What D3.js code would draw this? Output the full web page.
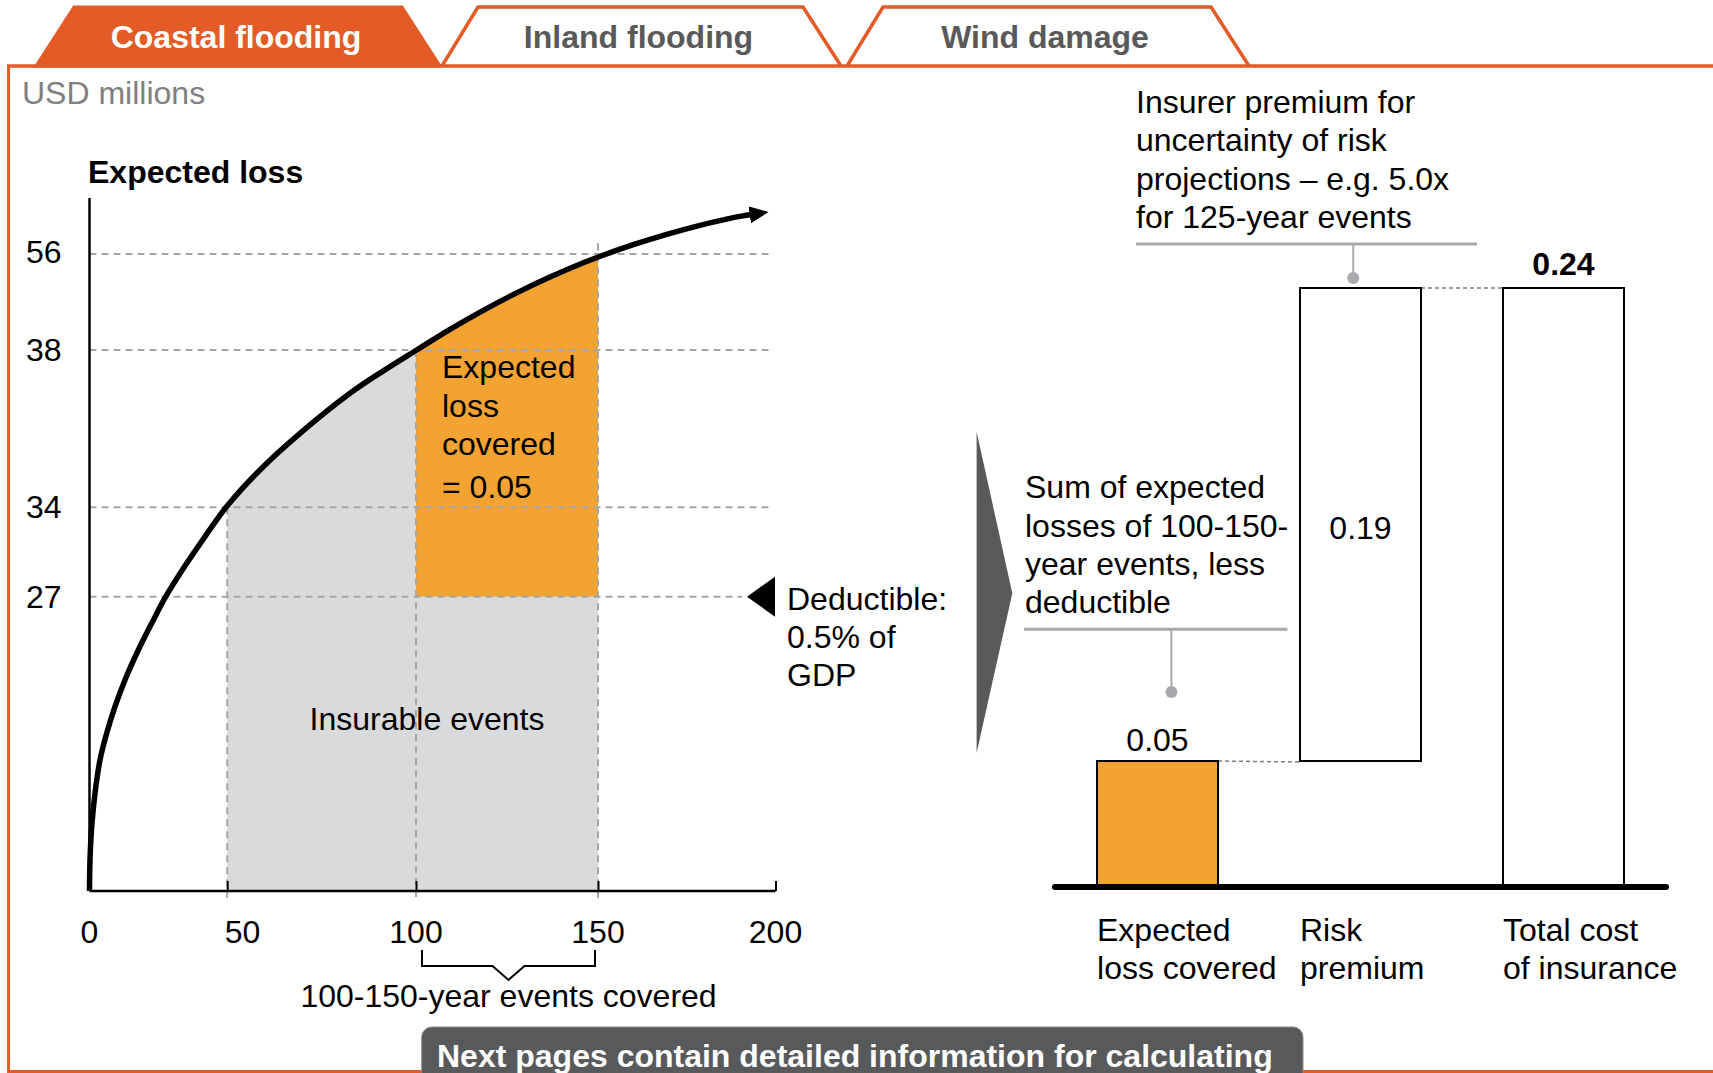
<!DOCTYPE html>
<html><head><meta charset="utf-8">
<script src="https://cdn.jsdelivr.net/npm/d3@7"></script>
<style>
html,body{margin:0;padding:0;background:#fff;}
svg{display:block;font-family:"Liberation Sans", Arial, sans-serif;}
</style></head><body>
<svg id="chart" width="1713" height="1073"></svg>
<script>
// ---------------- data ----------------
const tabs = ["Coastal flooding", "Inland flooding", "Wind damage"];
const unitLabel = "USD millions";
const yTitle = "Expected loss";
const yTicks = [27, 34, 38, 56];
const xTicks = [0, 50, 100, 150, 200];
const xBoundaryTicks = [45, 100, 150, 200];
// curve: return period (years) vs expected loss (USD millions)
const returnPeriod = [0, 0.16, 0.72, 1.80, 3.43, 5.62, 8.33, 11.60, 15.95, 20.33, 24.90, 30.65, 37.75, 44.84, 55.04, 66.57, 80.98, 90.58, 100.19, 109.34, 118.49, 127.66, 136.81, 145.96, 150.28, 159.94, 169.35, 178.73, 188.11, 193.30];
const expectedLoss = [0, 2.84, 5.90, 8.96, 12.02, 14.47, 16.91, 19.36, 22.11, 24.56, 27, 29.21, 31.71, 34.02, 34.95, 35.88, 36.90, 37.47, 38, 41.86, 45.43, 48.71, 51.67, 54.35, 55.49, 57.74, 59.69, 61.38, 62.83, 63.41];
const insurableRange = [45, 150];
const coveredRange = [100, 150];
const boundaryTops = [34, 38, 58];
const deductible = 27;
const coveredText = ["Expected", "loss", "covered", "= 0.05"];
const deductibleText = ["Deductible:", "0.5% of", "GDP"];
const insurableText = "Insurable events";
const bracketText = "100-150-year events covered";

const barCategories = [["Expected", "loss covered"], ["Risk", "premium"], ["Total cost", "of insurance"]];
const barStart = [0, 0.05, 0];
const barEnd = [0.05, 0.24, 0.24];
const barLabels = ["0.05", "0.19", "0.24"];
const topNote = ["Insurer premium for", "uncertainty of risk", "projections \u2013 e.g. 5.0x", "for 125-year events"];
const sideNote = ["Sum of expected", "losses of 100-150-", "year events, less", "deductible"];
const footerText = "Next pages contain detailed information for calculating";

// ---------------- styles ----------------
const ORANGE_TAB = "#E35B26";
const ORANGE_FILL = "#F2A331";
const GRAY_FILL = "#D9DADC";
const DARK = "#58595B";
const LINE_GRAY = "#A7A9AC";
const FS = 32;

const svg = d3.select("#chart");

function addText(g, x, y, s, o = {}) {
  return g.append("text").attr("x", x).attr("y", y)
    .attr("font-size", o.size || FS)
    .attr("font-weight", o.bold ? "bold" : "normal")
    .attr("fill", o.fill || "#000")
    .attr("text-anchor", o.anchor || "start")
    .text(s);
}
function addLines(g, x, y, lines, lh, o = {}) {
  lines.forEach((s, i) => addText(g, x, y + i * lh, s, o));
}

// ---------------- frame & tabs ----------------
const frame = svg.append("g");
const tabGeom = [
  {bl: 36, tl: 74, tr: 402, br: 440},
  {bl: 442, tl: 478, tr: 803, br: 841},
  {bl: 847, tl: 883, tr: 1211, br: 1249}
];
const tabTop = 7, tabBottom = 66;
tabs.forEach((t, i) => {
  const gm = tabGeom[i];
  if (i === 0) {
    frame.append("path")
      .attr("d", `M${gm.bl},${tabBottom}L${gm.tl},${tabTop}L${gm.tr},${tabTop}L${gm.br},${tabBottom}Z`)
      .attr("fill", ORANGE_TAB).attr("stroke", ORANGE_TAB).attr("stroke-width", 3);
  } else {
    frame.append("path")
      .attr("d", `M${gm.bl},${tabBottom}L${gm.tl},${tabTop}L${gm.tr},${tabTop}L${gm.br},${tabBottom}`)
      .attr("fill", "#fff").attr("stroke", ORANGE_TAB).attr("stroke-width", 3.5);
  }
  addText(frame, (gm.tl + gm.tr) / 2 - 2, 48, t, {bold: true, anchor: "middle", fill: i === 0 ? "#fff" : "#595959"});
});
frame.append("line").attr("x1", 7).attr("x2", 1713).attr("y1", tabBottom).attr("y2", tabBottom)
  .attr("stroke", ORANGE_TAB).attr("stroke-width", 3.5);
frame.append("line").attr("x1", 8.5).attr("x2", 8.5).attr("y1", tabBottom).attr("y2", 1073)
  .attr("stroke", ORANGE_TAB).attr("stroke-width", 3);
frame.append("line").attr("x1", 8.5).attr("x2", 1713).attr("y1", 1071.5).attr("y2", 1071.5)
  .attr("stroke", ORANGE_TAB).attr("stroke-width", 3);

addText(svg, 22, 104, unitLabel, {fill: "#808080"});

// ---------------- left chart ----------------
const L = svg.append("g");
const x = d3.scaleLinear().domain(xTicks).range([89.5, 242.5, 416, 598, 775.5]);
const y = d3.scaleLinear().domain([0, 27, 34, 38, 56]).range([891, 596.7, 507.3, 350, 254]);
const pts = returnPeriod.map((r, i) => [r, expectedLoss[i]]);

const defs = svg.append("defs");
defs.append("clipPath").attr("id", "clipIns").append("rect")
  .attr("x", x(insurableRange[0])).attr("y", 0)
  .attr("width", x(insurableRange[1]) - x(insurableRange[0])).attr("height", y(0));
defs.append("clipPath").attr("id", "clipCov").append("rect")
  .attr("x", x(coveredRange[0])).attr("y", 0)
  .attr("width", x(coveredRange[1]) - x(coveredRange[0])).attr("height", y(deductible));
defs.append("marker").attr("id", "arrow")
  .attr("markerUnits", "userSpaceOnUse").attr("markerWidth", 24).attr("markerHeight", 20)
  .attr("refX", 2).attr("refY", 8.5).attr("orient", "auto")
  .append("path").attr("d", "M0,0L19,8.5L0,17Z").attr("fill", "#000");

const curve = d3.curveCatmullRom.alpha(0.5);
L.append("path").datum(pts)
  .attr("d", d3.area().x(d => x(d[0])).y0(y(0)).y1(d => y(d[1])).curve(curve))
  .attr("fill", GRAY_FILL).attr("clip-path", "url(#clipIns)");
L.append("path").datum(pts)
  .attr("d", d3.area().x(d => x(d[0])).y0(y(deductible)).y1(d => y(d[1])).curve(curve))
  .attr("fill", ORANGE_FILL).attr("clip-path", "url(#clipCov)");

// gridlines
yTicks.forEach(v => {
  L.append("line").attr("x1", x(0)).attr("x2", v === deductible ? 742 : 772)
    .attr("y1", y(v)).attr("y2", y(v))
    .attr("stroke", "#A6A6A6").attr("stroke-width", 2).attr("stroke-dasharray", "7,5");
});
// vertical boundaries
[insurableRange[0], coveredRange[0], coveredRange[1]].forEach((v, i) => {
  L.append("line").attr("x1", x(v)).attr("x2", x(v))
    .attr("y1", y(boundaryTops[i])).attr("y2", y(0) + 7)
    .attr("stroke", "#A6A6A6").attr("stroke-width", 2).attr("stroke-dasharray", "7,5");
});

// axes
L.append("line").attr("x1", x(0)).attr("x2", x(0)).attr("y1", 198).attr("y2", y(0))
  .attr("stroke", "#000").attr("stroke-width", 2.5);
const xAxis = d3.axisBottom(x).tickValues(xBoundaryTicks).tickSize(-10).tickFormat("");
const xa = L.append("g").attr("transform", `translate(0,${y(0)})`).call(xAxis);
xa.select(".domain").attr("d", `M${x(0)},0H${x(200)}`).attr("stroke", "#000").attr("stroke-width", 2.5);
xa.selectAll(".tick line").attr("stroke", "#000").attr("stroke-width", 2);

yTicks.forEach(v => addText(L, 26, y(v) + (v === 56 ? 8.5 : 11), String(v)));
xTicks.forEach(v => addText(L, x(v), 943, String(v), {anchor: "middle"}));
addText(L, 88, 183, yTitle, {bold: true});

// curve
L.append("path").datum(pts)
  .attr("d", d3.line().x(d => x(d[0])).y(d => y(d[1])).curve(curve))
  .attr("fill", "none").attr("stroke", "#000").attr("stroke-width", 5.5)
  .attr("marker-end", "url(#arrow)");

// texts in plot
const cx0 = x(coveredRange[0]) + 26;
addText(L, cx0, 378, coveredText[0]);
addText(L, cx0, 416.5, coveredText[1]);
addText(L, cx0, 455, coveredText[2]);
addText(L, cx0, 498, coveredText[3]);
addText(L, x(coveredRange[0]) + 11, 730, insurableText, {anchor: "middle"});

// deductible marker
const dy0 = y(deductible);
L.append("path").attr("d", `M747,${dy0}L775,${dy0 - 20}L775,${dy0 + 20}Z`).attr("fill", "#000");
addLines(L, 787, dy0 + 13, deductibleText, 38.3);

// bracket
const bx0 = x(coveredRange[0]) + 6, bx1 = x(coveredRange[1]) - 3, bm = (bx0 + bx1) / 2;
L.append("path")
  .attr("d", `M${bx0},950V966H${bm - 16}L${bm},980L${bm + 16},966H${bx1}V950`)
  .attr("fill", "none").attr("stroke", "#000").attr("stroke-width", 2);
addText(L, bm, 1007, bracketText, {anchor: "middle"});

// chevron
svg.append("path").attr("d", "M976.6,431.7L1012.3,593.3L976.6,753Z").attr("fill", DARK);

// ---------------- right chart (waterfall) ----------------
const R = svg.append("g");
const xb = d3.scaleBand().domain(d3.range(barCategories.length)).range([1055, 1666])
  .paddingInner(0.404).paddingOuter(0.207);
const yb = d3.scaleLinear().domain([0, 0.24]).range([885.5, 288]);
const bw = xb.bandwidth();

// connectors
R.append("line").attr("x1", xb(0) + bw).attr("x2", xb(1)).attr("y1", yb(barEnd[0])).attr("y2", yb(barStart[1]) + 1)
  .attr("stroke", "#808080").attr("stroke-width", 1.5).attr("stroke-dasharray", "4,3");
R.append("line").attr("x1", xb(1) + bw).attr("x2", xb(2)).attr("y1", yb(barEnd[1])).attr("y2", yb(barEnd[2]))
  .attr("stroke", "#808080").attr("stroke-width", 1.5).attr("stroke-dasharray", "4,3");

R.selectAll("rect.bar").data(barCategories).enter().append("rect").attr("class", "bar")
  .attr("x", (d, i) => xb(i)).attr("width", bw)
  .attr("y", (d, i) => yb(barEnd[i])).attr("height", (d, i) => yb(barStart[i]) - yb(barEnd[i]))
  .attr("fill", (d, i) => i === 0 ? ORANGE_FILL : "#fff")
  .attr("stroke", "#000").attr("stroke-width", 2);

R.append("line").attr("x1", 1055).attr("x2", 1666).attr("y1", 887).attr("y2", 887)
  .attr("stroke", "#000").attr("stroke-width", 6).attr("stroke-linecap", "round");

addText(R, xb(0) + bw / 2, yb(barEnd[0]) - 10, barLabels[0], {anchor: "middle"});
addText(R, xb(1) + bw / 2, (yb(barStart[1]) + yb(barEnd[1])) / 2 + 14, barLabels[1], {anchor: "middle"});
addText(R, xb(2) + bw / 2, yb(barEnd[2]) - 13, barLabels[2], {anchor: "middle", bold: true});

barCategories.forEach((c, i) => addLines(R, xb(i), 941, c, 38.3));

// annotations
addLines(R, 1136, 113, topNote, 38.3);
R.append("line").attr("x1", 1136).attr("x2", 1477).attr("y1", 244).attr("y2", 244)
  .attr("stroke", LINE_GRAY).attr("stroke-width", 3);
const s1 = xb(1) + bw * 0.44;
R.append("line").attr("x1", s1).attr("x2", s1).attr("y1", 244).attr("y2", yb(barEnd[1]) - 10)
  .attr("stroke", LINE_GRAY).attr("stroke-width", 2);
R.append("circle").attr("cx", s1).attr("cy", yb(barEnd[1]) - 10).attr("r", 6).attr("fill", LINE_GRAY);

addLines(R, 1025, 498.3, sideNote, 38.3);
R.append("line").attr("x1", 1024).attr("x2", 1287.5).attr("y1", 629.3).attr("y2", 629.3)
  .attr("stroke", LINE_GRAY).attr("stroke-width", 3);
const s2 = xb(0) + bw * 0.615;
R.append("line").attr("x1", s2).attr("x2", s2).attr("y1", 629.3).attr("y2", 692)
  .attr("stroke", LINE_GRAY).attr("stroke-width", 2);
R.append("circle").attr("cx", s2).attr("cy", 692).attr("r", 6).attr("fill", LINE_GRAY);

// ---------------- footer button ----------------
svg.append("rect").attr("x", 421.7).attr("y", 1027).attr("width", 881.3).attr("height", 80)
  .attr("rx", 10).attr("fill", DARK).attr("stroke", "#8a8a8a").attr("stroke-width", 1);
addText(svg, 437, 1067, footerText, {bold: true, fill: "#fff"});
</script>
</body></html>
